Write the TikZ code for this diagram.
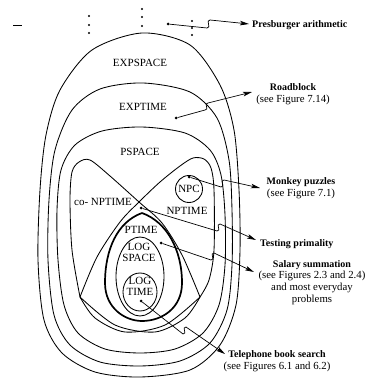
\documentclass[tikz,border=0pt]{standalone}
\usepackage{fontspec}
\setmainfont{Liberation Serif}
\usetikzlibrary{arrows.meta}

\newcommand{\calloutHead}[1]{{\fontsize{10}{11.7}\selectfont\bfseries #1}}

\tikzset{
  setline/.style={line width=0.85pt},
  thickset/.style={line width=1.7pt},
  lbl/.style={font=\fontsize{11}{11}\selectfont, inner sep=0pt, align=center},
  callout/.style={font=\fontsize{10.8}{11.7}\selectfont, inner sep=0pt, align=center},
  spot/.style={circle, fill, inner sep=0pt, minimum size=3pt},
  dotty/.style={circle, fill, inner sep=0pt, minimum size=2.1pt},
  pointer/.style={line width=0.7pt, -{Stealth[length=9pt,width=4.5pt,inset=2pt]}}
}

\begin{document}
\begin{tikzpicture}[x=1pt,y=-1pt]
\useasboundingbox (0,0) rectangle (367,379);

% the hierarchy goes on above
\draw[setline] (13,25) -- (22,25);
\foreach \y in {16,25,33} \node[dotty] (va\y) at (89,\y) {};
\foreach \y in {9,17,26} \node[dotty] (vb\y) at (142,\y) {};
\foreach \y in {21,28,35} \node[dotty] (vc\y) at (192,\y) {};

% EXPSPACE, EXPTIME, PSPACE
\draw[setline] plot[smooth cycle] coordinates {(142,33) (190,45) (220,85) (234,130) (239,190) (240,250) (236,305) (220,345) (190,370) (140,377) (95,372) (62,353) (44,320) (38,260) (40,190) (46,135) (60,90) (92,50)};
\draw[setline] plot[smooth cycle] coordinates {(143,83) (190,92) (217,118) (229,160) (232,210) (232,265) (227,310) (210,343) (180,361) (140,366) (100,362) (70,345) (54,315) (48,260) (49,200) (55,150) (72,110) (100,89)};
\draw[setline] plot[smooth cycle] coordinates {(142,127) (185,133) (210,150) (221,175) (225,215) (225,265) (219,305) (203,333) (175,349) (140,353) (105,349) (78,333) (64,305) (58,260) (57,210) (61,170) (75,145) (102,131)};

% co-NPTIME
\draw[setline] plot[smooth] coordinates {(80,297) (72,250) (70,200) (72,172) (79,162) (90,160) (110,176) (139,202) (162,223) (182,255) (200,297)};
\draw[setline] plot[smooth] coordinates {(80,297) (95,318) (125,332) (165,325) (200,297)};
% NPTIME
\draw[setline] plot[smooth] coordinates {(80,297) (97,257) (120,222) (139,202) (160,182) (180,166) (193,158) (204,159) (211,168) (214,190) (214,250) (209,280) (200,297)};
\draw[setline] plot[smooth] coordinates {(80,297) (115,325) (155,332) (185,318) (200,297)};

% PTIME, LOGSPACE, LOGTIME
\draw[thickset] (142,213) .. controls (117,222) and (105,250) .. (105,283)
  .. controls (105,308) and (125,321) .. (142,321)
  .. controls (162,321) and (182,308) .. (182,283)
  .. controls (182,250) and (167,222) .. (142,213);
\draw[setline] (140,276.5) ellipse[x radius=24pt, y radius=39.5pt];
\draw[setline] (140,292) ellipse[x radius=17pt, y radius=19pt];

% class names
\node[lbl] (expspace) at (140,63) {EXPSPACE};
\node[lbl] (exptime) at (143,107) {EXPTIME};
\node[lbl] (pspace) at (140,152) {PSPACE};
\node[lbl] (conp) at (103,202) {co- NPTIME};
\node[lbl] (np) at (187,211) {NPTIME};
\node[lbl, draw, circle, line width=0.85pt, minimum size=27pt] (npc) at (189,189) {NPC};
\node[lbl] (ptime) at (141,230) {PTIME};
\node[lbl] (logspace) at (139,252.5) {LOG\\SPACE};
\node[lbl] (logtime) at (140,286.5) {LOG\\TIME};

% problems
\node[spot] (dPres) at (168,24) {};
\node[spot] (dRoad) at (176,118) {};
\node[spot] (dMonkey) at (189,177) {};
\node[spot] (dPrime) at (141,208) {};
\node[spot] (dSalary) at (161,243) {};
\node[spot] (dPhone) at (141,301) {};

\node[callout, anchor=west] (pres) at (252,25) {\calloutHead{Presburger arithmetic}};
\node[callout] (road) at (293,94) {\calloutHead{Roadblock}\\(see Figure 7.14)};
\node[callout] (monkey) at (301,188) {\calloutHead{Monkey puzzles}\\(see Figure 7.1)};
\node[callout, anchor=west] (prime) at (260,244) {\calloutHead{Testing primality}};
\node[callout] (salary) at (312,282.5) {\calloutHead{Salary summation}\\(see Figures 2.3 and 2.4)\\and most everyday\\problems};
\node[callout] (phone) at (277,361) {\calloutHead{Telephone book search}\\(see Figures 6.1 and 6.2)};

\coordinate (tPres) at (249,24);
\coordinate (tRoad) at (252,92);
\coordinate (tMonkey) at (260,188);
\coordinate (tPrime) at (256,240);
\coordinate (tSalary) at (254,272);
\coordinate (tPhone) at (225,354);

\draw[pointer] (dPres) -- (207,28) .. controls (212,28) and (205,20) .. (210,20) -- (tPres);
\draw[pointer] (dRoad) -- (205,110) .. controls (210,110) and (203,103) .. (208,103) -- (tRoad);
\draw[pointer] (dMonkey) -- (221,187) .. controls (226,187) and (219,180) .. (224,180) -- (tMonkey);
\draw[pointer] (dPrime) -- (217,231) .. controls (222,231) and (215,224) .. (220,224) -- (tPrime);
\draw[pointer] (dSalary) -- (211,260) .. controls (216,260) and (209,253) .. (214,253) -- (tSalary);
\draw[pointer] (dPhone) -- (183,334) .. controls (188,334) and (181,327) .. (186,327) -- (tPhone);
\end{tikzpicture}
\end{document}
